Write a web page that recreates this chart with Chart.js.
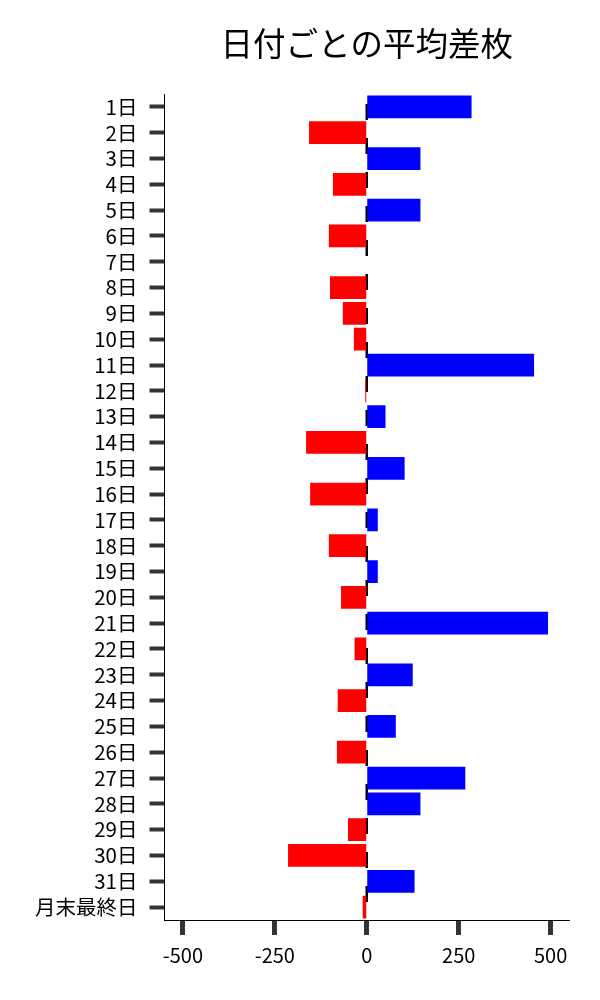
<!DOCTYPE html>
<html>
<head>
<meta charset="utf-8">
<script src="https://cdn.jsdelivr.net/npm/chart.js@4/dist/chart.umd.min.js"></script>
<style>
  html, body { margin: 0; padding: 0; background: #fff; }
  #wrap { width: 600px; height: 1000px; }
</style>
</head>
<body>
<div id="wrap"><canvas id="myChart" width="600" height="1000"></canvas></div>
<script>
"use strict";
const days = [
  "1日", "2日", "3日", "4日", "5日", "6日", "7日", "8日", "9日", "10日",
  "11日", "12日", "13日", "14日", "15日", "16日", "17日", "18日", "19日", "20日",
  "21日", "22日", "23日", "24日", "25日", "26日", "27日", "28日", "29日", "30日",
  "31日", "月末最終日",
];
const avgDiff = [
  285, -157, 146, -92, 146, -103, 0, -100, -65, -35,
  455, -4, 51, -165, 103, -154, 30, -103, 30, -70,
  493, -33, 125, -79, 79, -81, 268, 146, -51, -214,
  130, -11,
];
const xTicks = [-500, -250, 0, 250, 500];

const font = "'Noto Sans CJK JP', 'Noto Sans', sans-serif";

// dashed line at 0, drawn under the bars
const zeroLine = {
  id: "zeroLine",
  beforeDatasetsDraw(chart) {
    const { ctx, chartArea, scales } = chart;
    const x = scales.x.getPixelForValue(0);
    ctx.save();
    ctx.strokeStyle = "#000";
    ctx.lineWidth = 2.5;
    ctx.setLineDash([16, 18]);
    ctx.lineDashOffset = 24;
    ctx.beginPath();
    ctx.moveTo(x, chartArea.top);
    ctx.lineTo(x, chartArea.bottom);
    ctx.stroke();
    ctx.restore();
  },
};

const ctx = document.getElementById("myChart").getContext("2d");
const myChart = new Chart(ctx, {
  type: "bar",
  data: {
    labels: days,
    datasets: [
      {
        label: "平均差枚",
        data: avgDiff,
        backgroundColor: avgDiff.map((v) => (v >= 0 ? "#0000ff" : "#ff0000")),
        borderWidth: 0,
        barPercentage: 0.88,
        categoryPercentage: 1,
      },
    ],
  },
  options: {
    indexAxis: "y",
    responsive: false,
    animation: false,
    layout: { padding: { left: 23, right: 31, top: 20, bottom: 25 } },
    plugins: {
      legend: { display: false },
      tooltip: { enabled: false },
      title: {
        display: true,
        text: "日付ごとの平均差枚",
        fullSize: false,
        color: "#000",
        font: { family: font, size: 32.5, weight: "normal" },
        padding: { top: 4, bottom: 31 },
      },
    },
    scales: {
      x: {
        min: -550,
        max: 550,
        afterBuildTicks: (axis) => {
          axis.ticks = xTicks.map((v) => ({ value: v }));
        },
        grid: {
          drawOnChartArea: false,
          tickLength: 15,
          tickWidth: 5,
          tickColor: "#333",
        },
        border: { display: true, color: "#000", width: 1 },
        ticks: {
          color: "#000",
          padding: 8,
          font: { family: font, size: 20 },
        },
      },
      y: {
        grid: {
          offset: false,
          drawOnChartArea: false,
          tickLength: 15,
          tickWidth: 4,
          tickColor: "#333",
        },
        border: { display: true, color: "#000", width: 1 },
        ticks: {
          color: "#000",
          padding: 12,
          autoSkip: false,
          font: { family: font, size: 20.5 },
        },
      },
    },
  },
  plugins: [zeroLine],
});
</script>
</body>
</html>
